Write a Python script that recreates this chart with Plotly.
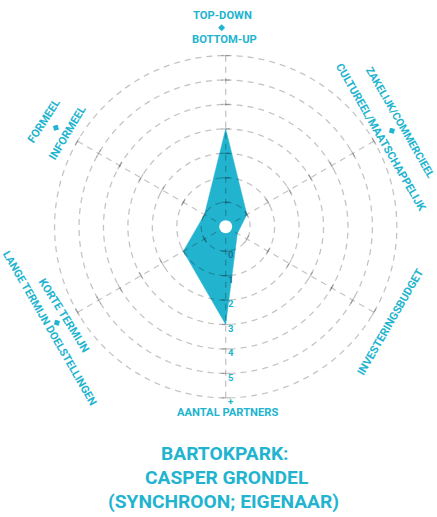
import math
import numpy as np
import plotly.graph_objects as go

W, H = 437, 517
TEAL = "#22b4cf"
DARK = "#17729a"
GRID = "rgba(0,0,0,0.23)"
FONT = "Roboto, Liberation Sans, sans-serif"

# ---- data ----
categories = [
    "TOP-DOWN / BOTTOM-UP",
    "ZAKELIJK/COMMERCIEEL / CULTUREEL/MAATSCHAPPELIJK",
    "INVESTERINGSBUDGET",
    "AANTAL PARTNERS",
    "KORTE TERMIJN / LANGE TERMIJN DOELSTELLINGEN",
    "FORMEEL / INFORMEEL",
]
values = [3, 0, -0.45, 3, 1, 0]
tick_values = [0, 1, 2, 3, 4, 5, 6]
tick_labels = ["0", "1", "2", "3", "4", "5", "+"]
r_min = -1
r_max = 6.4
title_lines = ["BARTOKPARK:", "CASPER GRONDEL", "(SYNCHROON; EIGENAAR)"]

angles = [i * 360 / len(categories) for i in range(len(categories))]

CX, CY = 225.7, 226.7          # centre of the web in px
UNIT = 24.45                   # px per radial unit
RPX = (r_max - r_min) * UNIT   # px radius of the polar domain

fig = go.Figure()

# filled profile
fig.add_trace(go.Scatterpolar(
    r=values + [values[0]], theta=angles + [angles[0]],
    mode="lines", fill="toself", fillcolor=TEAL,
    line=dict(color=TEAL, width=0.5), hoverinfo="skip"))

# dashed grid circles (drawn above fill)
circle_theta = np.linspace(0, 360, 241)
for tv in tick_values:
    fig.add_trace(go.Scatterpolar(
        r=[tv] * len(circle_theta), theta=circle_theta, mode="lines",
        line=dict(color=GRID, width=1.3, dash="6px,5px"), hoverinfo="skip"))

# dashed spokes
for a in angles:
    fig.add_trace(go.Scatterpolar(
        r=[r_min, tick_values[-1]], theta=[a, a], mode="lines",
        line=dict(color=GRID, width=1.3, dash="6px,5px"), hoverinfo="skip"))

# small perpendicular ticks on spokes
tr, tt, ta = [], [], []
for a in angles:
    for tv in tick_values:
        tr.append(tv)
        tt.append(a)
        ta.append(a)
fig.add_trace(go.Scatterpolar(
    r=tr, theta=tt, mode="markers",
    marker=dict(symbol="line-ew", size=6, angle=ta,
                line=dict(color=GRID, width=1.3)),
    hoverinfo="skip"))

# white hole in the centre
fig.add_trace(go.Scatterpolar(
    r=[r_min], theta=[0], mode="markers",
    marker=dict(color="white", size=13, line=dict(width=0)), hoverinfo="skip"))

# radial tick labels along the bottom spoke, a little right of it and below each ring
lab_r = [v + 0.21 for v in tick_values]
lab_theta = [180 - math.degrees(math.atan2(5.0, (rv - r_min) * UNIT)) for rv in lab_r]
fig.add_trace(go.Scatterpolar(
    r=lab_r, theta=lab_theta,
    mode="text", text=["<b>%s</b>" % t for t in tick_labels], textposition="middle center",
    textfont=dict(family=FONT, size=9.5,
                  color=[DARK, DARK] + [TEAL] * (len(tick_values) - 2)),
    hoverinfo="skip"))


def px(x, y):
    return x / W, 1 - y / H


# axis labels: (text, x_px, y_px, rotation, size)
axis_labels = [
    ("TOP-DOWN", 222, 15.5, 0, 11.2),
    ("BOTTOM-UP", 224, 40, 0, 11.2),
    ("ZAKELIJK/COMMERCIEEL", 400, 122.5, 60, 10.7),
    ("CULTUREEL/MAATSCHAPPELIJK", 381, 137, 60, 11.2),
    ("INVESTERINGSBUDGET", 390, 322, -60, 11.2),
    ("AANTAL PARTNERS", 227, 412, 0, 11.2),
    ("KORTE TERMIJN", 64, 315, 58, 11.2),
    ("LANGE TERMIJN DOELSTELLINGEN", 50, 328, 60, 10.9),
    ("FORMEEL", 44, 122, -57, 11.2),
    ("INFORMEEL", 67, 133, -59, 11.2),
]
arrow_marks = [(221, 27, 0), (392, 130, 60), (57, 322, 60), (55, 128, -60)]

annotations = []
for text, x, y, ang, size in axis_labels:
    xx, yy = px(x, y)
    annotations.append(dict(
        text="<b>%s</b>" % text, x=xx, y=yy, xref="paper", yref="paper",
        xanchor="center", yanchor="middle", showarrow=False, textangle=ang,
        font=dict(family=FONT, size=size, color=TEAL)))
for x, y, ang in arrow_marks:
    xx, yy = px(x, y)
    annotations.append(dict(
        text="◆", x=xx, y=yy, xref="paper", yref="paper",
        xanchor="center", yanchor="middle", showarrow=False, textangle=ang,
        font=dict(family="DejaVu Sans", size=9, color=TEAL)))

title_pos = [(225, 453.7), (226.5, 477), (223.5, 501)]
for text, (x, y) in zip(title_lines, title_pos):
    xx, yy = px(x, y)
    annotations.append(dict(
        text="<b>%s</b>" % text, x=xx, y=yy, xref="paper", yref="paper",
        xanchor="center", yanchor="middle", showarrow=False,
        font=dict(family=FONT, size=19.2, color=TEAL)))

fig.update_layout(
    width=W, height=H,
    margin=dict(l=0, r=0, t=0, b=0),
    paper_bgcolor="white", plot_bgcolor="white",
    showlegend=False,
    polar=dict(
        domain=dict(x=[(CX - RPX) / W, (CX + RPX) / W],
                    y=[(H - CY - RPX) / H, (H - CY + RPX) / H]),
        bgcolor="rgba(0,0,0,0)",
        radialaxis=dict(range=[r_min, r_max], visible=False),
        angularaxis=dict(rotation=90, direction="clockwise", visible=False),
    ),
    annotations=annotations,
)

fig.write_html("out.html", config={"displayModeBar": False},
               post_script="document.body.style.margin='0';document.body.style.overflow='hidden';")
